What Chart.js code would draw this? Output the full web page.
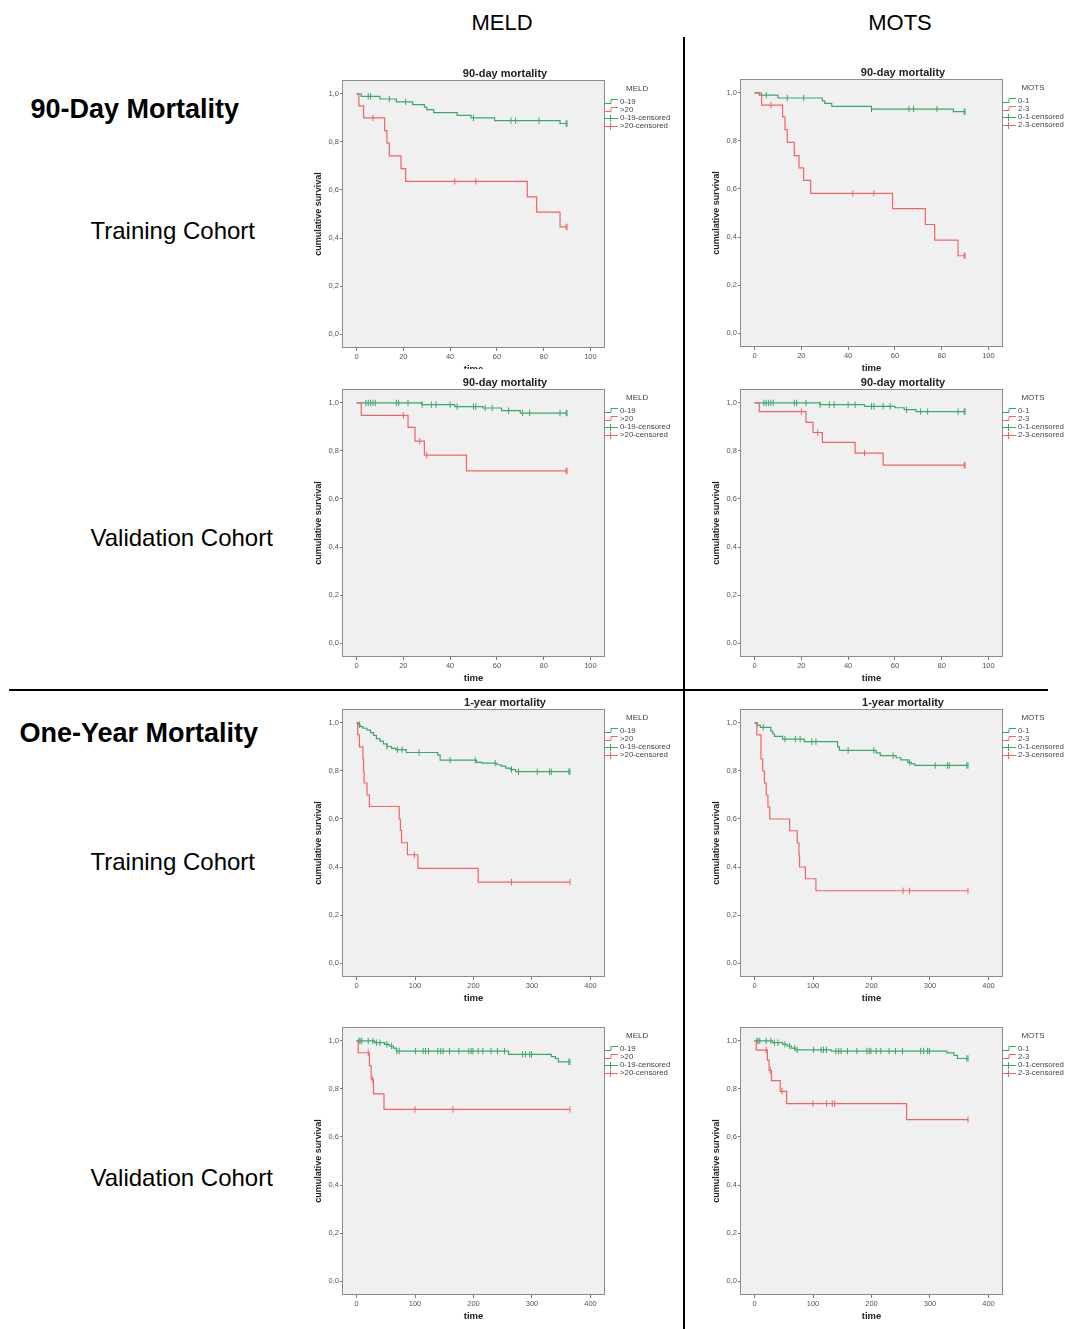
<!DOCTYPE html>
<html>
<head>
<meta charset="utf-8">
<script src="https://cdn.jsdelivr.net/npm/chart.js@4.4.1/dist/chart.umd.min.js"></script>
<style>
  html, body { margin: 0; padding: 0; background: #fff; }
  body { width: 1066px; height: 1329px; position: relative; overflow: hidden;
         font-family: "Liberation Sans", Arial, sans-serif; color: #000; }
  .lbl { position: absolute; line-height: 1; white-space: nowrap; }
  .head { font-size: 22px; width: 200px; text-align: center; }
  .sec { font-size: 27px; font-weight: bold; }
  .coh { font-size: 24px; }
  .km { position: absolute; width: 380px; height: 317px; }
  .km.cover { background: #fff; }
  .rule { position: absolute; background: #000; z-index: 5; }
</style>
</head>
<body>
<div class="lbl head" style="left:402px; top:12.4px;">MELD</div>
<div class="lbl head" style="left:800px; top:12.4px;">MOTS</div>
<div class="lbl sec" style="left:30.5px; top:96.1px;">90-Day Mortality</div>
<div class="lbl coh" style="left:90.5px; top:218.7px;">Training Cohort</div>
<div class="lbl coh" style="left:90.5px; top:526.2px;">Validation Cohort</div>
<div class="lbl sec" style="left:19.5px; top:720.4px;">One-Year Mortality</div>
<div class="lbl coh" style="left:90.5px; top:849.7px;">Training Cohort</div>
<div class="lbl coh" style="left:90.5px; top:1166.2px;">Validation Cohort</div>
<div class="rule" style="left:683px; top:37px; width:2px; height:1292px;"></div>
<div class="rule" style="left:9px; top:689px; width:1039px; height:2px;"></div>
<div id="plots"></div>
<script>
// axis ticks
const ticks90 = [0, 20, 40, 60, 80, 100];
const ticks365 = [0, 100, 200, 300, 400];
const yTicks = [0, 0.2, 0.4, 0.6, 0.8, 1.0];
const yTickLabels = ['0,0', '0,2', '0,4', '0,6', '0,8', '1,0'];

const meldGroups = ['0-19', '>20'];
const motsGroups = ['0-1', '2-3'];

// Kaplan-Meier steps: [time, survival after the event]; censored = times only
const meld90TrainLow = [[0, 1], [2, 0.99], [10, 0.979], [17, 0.967], [24, 0.956], [29, 0.945], [30, 0.935], [33, 0.922], [43, 0.911], [49, 0.9], [59, 0.889], [87, 0.877], [90, 0.877]];
const meld90TrainLowCens = [5, 6, 14, 21, 50, 66, 68, 78, 89.6, 90];
const meld90TrainHigh = [[0, 1], [1, 0.95], [3, 0.9], [12, 0.847], [13, 0.795], [14, 0.742], [19, 0.689], [21, 0.636], [73, 0.571], [77, 0.508], [87, 0.446], [90, 0.446]];
const meld90TrainHighCens = [7, 42, 51, 89.6, 90];

const mots90TrainLow = [[0, 1], [2, 0.991], [10, 0.979], [29, 0.967], [30, 0.957], [33, 0.944], [50, 0.933], [85, 0.922], [90, 0.922]];
const mots90TrainLowCens = [5, 14, 21, 50, 66, 68, 78, 89.6, 90];
const mots90TrainHigh = [[0, 1], [3, 0.949], [12, 0.9], [13, 0.847], [14, 0.794], [17, 0.739], [19, 0.688], [21, 0.636], [24, 0.582], [59, 0.518], [73, 0.452], [77, 0.387], [87, 0.322], [90, 0.322]];
const mots90TrainHighCens = [7, 42, 51, 89.6, 90];

const meld90ValidLow = [[0, 1], [28, 0.993], [42, 0.985], [54, 0.979], [62, 0.968], [70, 0.958], [90, 0.958]];
const meld90ValidLowCens = [4, 5, 6, 7, 8, 17, 18, 22, 28, 32, 34, 40, 43, 50, 51, 55, 58, 65, 71, 74, 87, 89.6, 90];
const meld90ValidHigh = [[0, 1], [2, 0.948], [22, 0.898], [25, 0.841], [29, 0.783], [47, 0.717], [90, 0.717]];
const meld90ValidHighCens = [20, 27, 30, 89.6, 90];

const mots90ValidLow = [[0, 1], [28, 0.993], [47, 0.986], [60, 0.98], [64, 0.972], [69, 0.964], [90, 0.964]];
const mots90ValidLowCens = [4, 5, 6, 7, 8, 17, 18, 22, 28, 32, 34, 40, 43, 50, 51, 55, 58, 65, 71, 74, 87, 89.6, 90];
const mots90ValidHigh = [[0, 1], [2, 0.964], [22, 0.919], [25, 0.877], [29, 0.836], [43, 0.791], [55, 0.741], [90, 0.741]];
const mots90ValidHighCens = [20, 27, 47, 89.6, 90];

const meld1yTrainLow = [[0, 1], [3, 0.993], [6, 0.985], [11, 0.978], [18, 0.97], [24, 0.96], [29, 0.948], [34, 0.935], [40, 0.924], [46, 0.913], [52, 0.902], [60, 0.894], [67, 0.889], [85, 0.877], [139, 0.866], [143, 0.845], [205, 0.836], [215, 0.833], [240, 0.826], [247, 0.82], [255, 0.812], [263, 0.806], [272, 0.797], [365, 0.797]];
const meld1yTrainLowCens = [5, 52, 70, 78, 107, 160, 203, 237, 265, 277, 309, 330, 333, 363, 365];
const meld1yTrainHigh = [[0, 1], [2, 0.951], [5, 0.9], [11, 0.85], [12, 0.8], [13, 0.75], [18, 0.7], [22, 0.652], [73, 0.6], [75, 0.552], [77, 0.501], [87, 0.451], [105, 0.394], [208, 0.337], [365, 0.337]];
const meld1yTrainHighCens = [99, 265, 365];

const mots1yTrainLow = [[0, 1], [5, 0.99], [10, 0.982], [28, 0.966], [31, 0.955], [34, 0.944], [48, 0.933], [85, 0.922], [142, 0.9], [145, 0.886], [208, 0.875], [215, 0.864], [242, 0.855], [250, 0.846], [262, 0.836], [268, 0.83], [274, 0.823], [365, 0.823]];
const mots1yTrainLowCens = [15, 52, 70, 78, 98, 105, 160, 204, 237, 265, 309, 330, 333, 363, 365];
const mots1yTrainHigh = [[0, 1], [4, 0.95], [11, 0.85], [14, 0.8], [17, 0.75], [20, 0.7], [23, 0.65], [26, 0.6], [60, 0.551], [73, 0.5], [76, 0.45], [77, 0.4], [87, 0.351], [105, 0.301], [365, 0.301]];
const mots1yTrainHighCens = [254, 265, 365];

const meld1yValidLow = [[0, 1], [31, 0.993], [48, 0.986], [56, 0.979], [63, 0.97], [68, 0.958], [260, 0.944], [333, 0.935], [340, 0.927], [345, 0.913], [365, 0.913]];
const meld1yValidLowCens = [4, 6, 9, 20, 28, 34, 40, 52, 60, 69, 73, 101, 114, 118, 123, 139, 144, 148, 159, 175, 192, 196, 199, 208, 216, 230, 241, 253, 284, 289, 296, 299, 363, 365];
const meld1yValidHigh = [[0, 1], [3, 0.951], [22, 0.897], [25, 0.841], [29, 0.78], [47, 0.715], [365, 0.715]];
const meld1yValidHighCens = [20, 27, 100, 165, 365];

const mots1yValidLow = [[0, 1], [31, 0.993], [48, 0.986], [56, 0.979], [63, 0.97], [70, 0.963], [131, 0.958], [329, 0.95], [341, 0.94], [347, 0.927], [365, 0.927]];
const mots1yValidLowCens = [4, 6, 9, 20, 28, 34, 40, 52, 60, 69, 73, 101, 114, 118, 123, 139, 144, 148, 159, 175, 192, 196, 199, 208, 216, 230, 241, 253, 284, 289, 296, 299, 363, 365];
const mots1yValidHigh = [[0, 1], [3, 0.962], [22, 0.92], [25, 0.877], [29, 0.835], [44, 0.79], [55, 0.739], [260, 0.672], [365, 0.672]];
const mots1yValidHighCens = [20, 27, 47, 100, 123, 133, 137, 365];

const FONT = '"Liberation Sans", Arial, sans-serif';
Chart.defaults.font.family = FONT;
Chart.defaults.color = '#555';
const GREEN = '#3aa86b';
const RED = '#f06464';

// survival value of a step curve at time t (where a censor tick sits)
const stepAt = (curve, t) => {
  let s = curve[0][1];
  curve.forEach(([x, y]) => { if (x <= t) { s = y; } });
  return s;
};

const kmDecor = {
  id: 'kmDecor',
  beforeDraw(chart) {
    const { ctx, chartArea: a } = chart;
    ctx.save();
    ctx.fillStyle = '#f0f0f0';
    ctx.fillRect(a.left, a.top, a.right - a.left, a.bottom - a.top);
    ctx.restore();
  },
  afterDraw(chart, args, opts) {
    const { ctx, chartArea: a } = chart;
    ctx.save();
    ctx.strokeStyle = '#8c8c8c';
    ctx.lineWidth = 1;
    ctx.strokeRect(a.left - 0.5, a.top - 0.5, a.right - a.left + 1, a.bottom - a.top + 1);

    if (opts.title) {
      ctx.fillStyle = '#222';
      ctx.font = `bold 11px ${FONT}`;
      ctx.textAlign = 'center';
      ctx.textBaseline = 'middle';
      ctx.fillText(opts.title, a.left + 162, a.top - 7);
    }

    // legend, SPSS style
    const g = opts.groups;
    const labels = [g[0], g[1], g[0] + '-censored', g[1] + '-censored'];
    const colors = [GREEN, RED, GREEN, RED];
    const x0 = a.right;
    ctx.font = `7.8px ${FONT}`;
    const textW = Math.max(...labels.map((l) => ctx.measureText(l).width));
    ctx.textBaseline = 'middle';
    ctx.textAlign = 'center';
    ctx.fillStyle = '#444';
    ctx.font = `8px ${FONT}`;
    ctx.fillText(opts.legendTitle, (x0 + x0 + 16 + textW) / 2, a.top + 8);
    ctx.font = `7.8px ${FONT}`;
    ctx.textAlign = 'left';
    labels.forEach((l, i) => {
      const y = a.top + 21 + i * 8;
      ctx.strokeStyle = colors[i];
      ctx.lineWidth = 1;
      ctx.beginPath();
      if (i < 2) {
        ctx.moveTo(x0, y + 1.5);
        ctx.lineTo(x0 + 7, y + 1.5);
        ctx.lineTo(x0 + 7, y - 2.5);
        ctx.lineTo(x0 + 14, y - 2.5);
      } else {
        ctx.moveTo(x0, y + 0.5);
        ctx.lineTo(x0 + 14, y + 0.5);
        ctx.moveTo(x0 + 6.5, y - 3);
        ctx.lineTo(x0 + 6.5, y + 4);
      }
      ctx.stroke();
      ctx.fillText(l, x0 + 16, y);
    });
    ctx.restore();
  },
};

function kmChart(canvas, spec) {
  const cens = (curve, times) => times.map((t) => ({ x: t, y: stepAt(curve, t) }));
  const line = (label, curve, color) => ({
    label, data: curve.map(([x, y]) => ({ x, y })),
    borderColor: color, borderWidth: 1.2, stepped: 'before', pointRadius: 0, fill: false,
  });
  const marks = (label, curve, times, color) => ({
    label, data: cens(curve, times), showLine: false,
    pointStyle: 'line', pointRotation: 90, pointRadius: 3.2,
    pointBorderColor: color, pointBorderWidth: 1, borderColor: color,
  });
  return new Chart(canvas, {
    type: 'line',
    data: {
      datasets: [
        line(spec.groups[1], spec.high, RED),
        marks(spec.groups[1] + '-censored', spec.high, spec.highCens, RED),
        line(spec.groups[0], spec.low, GREEN),
        marks(spec.groups[0] + '-censored', spec.low, spec.lowCens, GREEN),
      ],
    },
    options: {
      responsive: true,
      maintainAspectRatio: false,
      animation: false,
      events: [],
      layout: { padding: { left: 13, right: 76, top: 21, bottom: 0 } },
      plugins: {
        legend: { display: false },
        tooltip: { enabled: false },
        kmDecor: { title: spec.title, legendTitle: spec.legendTitle, groups: spec.groups },
      },
      scales: {
        x: {
          type: 'linear', min: spec.xMin, max: spec.xMax,
          afterBuildTicks: (s) => { s.ticks = spec.xTicks.map((v) => ({ value: v })); },
          afterFit: (s) => { s.height = 30; },
          ticks: { font: { size: 7.5 }, color: '#555', padding: 1, maxRotation: 0, autoSkip: false, callback: (v) => String(v) },
          grid: { drawOnChartArea: false, tickLength: 4, color: '#777' },
          border: { display: false },
          title: { display: true, text: 'time', font: { size: 9.5, weight: 'bold' }, color: '#222', padding: { top: 0, bottom: 2.3 } },
        },
        y: {
          type: 'linear', min: -0.054, max: 1.054,
          afterBuildTicks: (s) => { s.ticks = yTicks.map((v) => ({ value: v })); },
          afterFit: (s) => { s.width = 30; },
          ticks: { font: { size: 7.5 }, color: '#555', padding: 1, autoSkip: false, callback: (v, i) => yTickLabels[i] },
          grid: { drawOnChartArea: false, tickLength: 3, color: '#777' },
          border: { display: false },
          title: { display: true, text: 'cumulative survival', font: { size: 9, weight: 'bold' }, color: '#222', padding: { top: 0, bottom: 0 } },
        },
      },
    },
    plugins: [kmDecor],
  });
}

const SHORT = { xMin: -5.8, xMax: 105.8, xTicks: ticks90 };
const LONG = { xMin: -23.1, xMax: 423.1, xTicks: ticks365 };

const panels = [
  { left: 343, top: 81, title: '90-day mortality', legendTitle: 'MELD', groups: meldGroups, low: meld90TrainLow, lowCens: meld90TrainLowCens, high: meld90TrainHigh, highCens: meld90TrainHighCens, ...SHORT },
  { left: 741, top: 80, title: '90-day mortality', legendTitle: 'MOTS', groups: motsGroups, low: mots90TrainLow, lowCens: mots90TrainLowCens, high: mots90TrainHigh, highCens: mots90TrainHighCens, ...SHORT },
  { left: 343, top: 390, cover: true, title: '90-day mortality', legendTitle: 'MELD', groups: meldGroups, low: meld90ValidLow, lowCens: meld90ValidLowCens, high: meld90ValidHigh, highCens: meld90ValidHighCens, ...SHORT },
  { left: 741, top: 390, title: '90-day mortality', legendTitle: 'MOTS', groups: motsGroups, low: mots90ValidLow, lowCens: mots90ValidLowCens, high: mots90ValidHigh, highCens: mots90ValidHighCens, ...SHORT },
  { left: 343, top: 710, title: '1-year mortality', legendTitle: 'MELD', groups: meldGroups, low: meld1yTrainLow, lowCens: meld1yTrainLowCens, high: meld1yTrainHigh, highCens: meld1yTrainHighCens, ...LONG },
  { left: 741, top: 710, title: '1-year mortality', legendTitle: 'MOTS', groups: motsGroups, low: mots1yTrainLow, lowCens: mots1yTrainLowCens, high: mots1yTrainHigh, highCens: mots1yTrainHighCens, ...LONG },
  { left: 343, top: 1028, title: null, legendTitle: 'MELD', groups: meldGroups, low: meld1yValidLow, lowCens: meld1yValidLowCens, high: meld1yValidHigh, highCens: meld1yValidHighCens, ...LONG },
  { left: 741, top: 1028, title: null, legendTitle: 'MOTS', groups: motsGroups, low: mots1yValidLow, lowCens: mots1yValidLowCens, high: mots1yValidHigh, highCens: mots1yValidHighCens, ...LONG },
];

const host = document.getElementById('plots');
panels.forEach((p) => {
  const box = document.createElement('div');
  box.className = p.cover ? 'km cover' : 'km';
  box.style.left = (p.left - 43) + 'px';
  box.style.top = (p.top - 21) + 'px';
  const canvas = document.createElement('canvas');
  box.appendChild(canvas);
  host.appendChild(box);
  kmChart(canvas, p);
});
</script>
</body>
</html>
